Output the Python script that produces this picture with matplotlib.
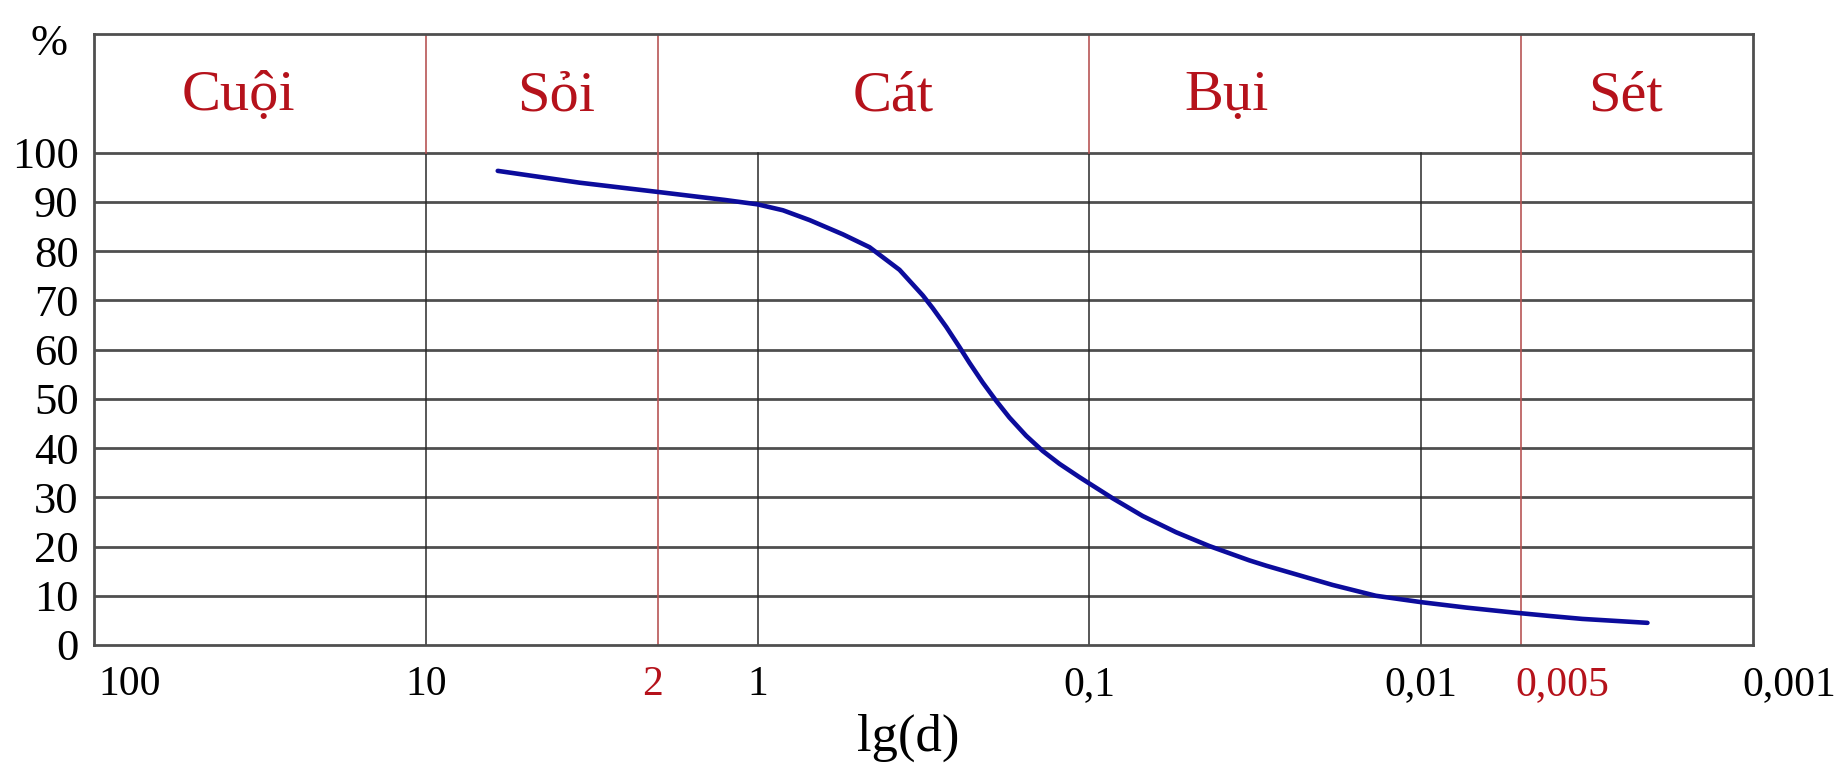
import matplotlib
matplotlib.use("Agg")
import matplotlib.pyplot as plt
from matplotlib.ticker import NullLocator
from matplotlib.transforms import ScaledTranslation

plt.rcParams["font.family"] = ["Liberation Serif", "DejaVu Serif"]

# Soil fractions and their grain-size boundaries (mm)
fractions = ["Cuội", "Sỏi", "Cát", "Bụi", "Sét"]
fraction_bounds = [100, 10, 2, 0.1, 0.005, 0.001]

# Grain-size distribution curve: diameter d (mm) vs. percent finer (%)
grain_size = [6.07, 3.44, 1.93, 1.495, 1.257, 1.0, 0.839, 0.697, 0.553, 0.460,
              0.3735, 0.3177, 0.2965, 0.270, 0.2463, 0.2298, 0.2096, 0.191,
              0.1742, 0.1551, 0.1382, 0.1231, 0.1072, 0.100, 0.0851, 0.0691,
              0.0548, 0.0435, 0.0330, 0.0293, 0.0185, 0.0137, 0.0100, 0.00732,
              0.00528, 0.00411, 0.00327, 0.00208]
percent_finer = [96.3, 93.9, 91.9, 91.0, 90.4, 89.5, 88.3, 86.3, 83.4, 80.8,
                 76.2, 71.0, 68.4, 64.6, 60.5, 57.3, 53.3, 49.6,
                 46.2, 42.5, 39.4, 36.8, 34.1, 32.8, 29.8, 26.2,
                 22.9, 20.1, 17.2, 16.1, 12.2, 10.0, 8.7, 7.6,
                 6.6, 5.9, 5.3, 4.5]

# Axis ticks
x_ticks = [100, 10, 2, 1, 0.1, 0.01, 0.005, 0.001]
x_tick_labels = ["100", "10", "2", "1", "0,1", "0,01", "0,005", "0,001"]
decade_lines = [10, 1, 0.1, 0.01]
y_ticks = [0, 10, 20, 30, 40, 50, 60, 70, 80, 90, 100]

# ---- styling ----
GRID = "#4f4f4f"
BLACK = "#2a2a2a"
RED_LINE = "#b85555"
RED_TEXT = "#b5121b"
CURVE = "#0c0c9c"
HEADER_TOP = 124.1

fig = plt.figure(figsize=(18.49, 7.63), dpi=100, facecolor="white")
ax = fig.add_axes([94 / 1849, 118 / 763, 1659 / 1849, 611 / 763])
ax.set_xscale("log")
ax.set_xlim(fraction_bounds[0], fraction_bounds[-1])
ax.set_ylim(0, HEADER_TOP)

# horizontal grid (including the line closing the header band at 100 %)
for y in y_ticks[1:]:
    ax.axhline(y, color=GRID, lw=2.0, zorder=1)

# decade lines inside the chart area
for x in decade_lines:
    ax.plot([x, x], [0, 100], color=BLACK, lw=1.1, zorder=2)

# fraction boundaries: red in the header band, red through the chart where
# they do not coincide with a decade line
for b in fraction_bounds[1:-1]:
    ax.plot([b, b], [100, HEADER_TOP], color=RED_LINE, lw=1.2, zorder=2)
    if b not in decade_lines:
        ax.plot([b, b], [0, 100], color=RED_LINE, lw=1.2, zorder=2)

# fraction names in the header band
header_x = [36.8, 4.05, 0.391, 0.0387, 0.00243]
for name, x in zip(fractions, header_x):
    ax.text(x, 108.6, name, ha="center", va="baseline", fontsize=42,
            color=RED_TEXT)

# grain-size distribution curve
ax.plot(grain_size, percent_finer, color=CURVE, lw=3.3,
        solid_capstyle="round", solid_joinstyle="round", zorder=5)

for s in ax.spines.values():
    s.set_color(GRID)
    s.set_linewidth(2.0)

ax.set_xticks(x_ticks, x_tick_labels)
ax.xaxis.set_minor_locator(NullLocator())
ax.set_yticks(y_ticks, [str(v) for v in y_ticks])
ax.tick_params(axis="both", length=0, colors="black")
ax.tick_params(axis="x", pad=15, labelsize=30)
ax.tick_params(axis="y", pad=11, labelsize=32)

red_labels = {"2", "0,005"}
label_adjust = {"100": ("left", 3), "2": ("right", 4), "0,005": ("left", -4),
                "0,001": ("center", 26)}
for lbl in ax.get_xticklabels():
    txt = lbl.get_text()
    if txt in red_labels:
        lbl.set_color(RED_TEXT)
    if txt in label_adjust:
        ha, dx = label_adjust[txt]
        lbl.set_horizontalalignment(ha)
        lbl.set_transform(lbl.get_transform()
                          + ScaledTranslation(dx / 72, 0, fig.dpi_scale_trans))

ax.set_xlabel("lg(d)", fontsize=38)
ax.xaxis.set_label_coords(0.491, -0.112)
fig.text(49 / 1849, 1 - 44 / 763, "%", ha="center", va="center", fontsize=32)

fig.savefig("out.png", dpi=100, facecolor="white")
